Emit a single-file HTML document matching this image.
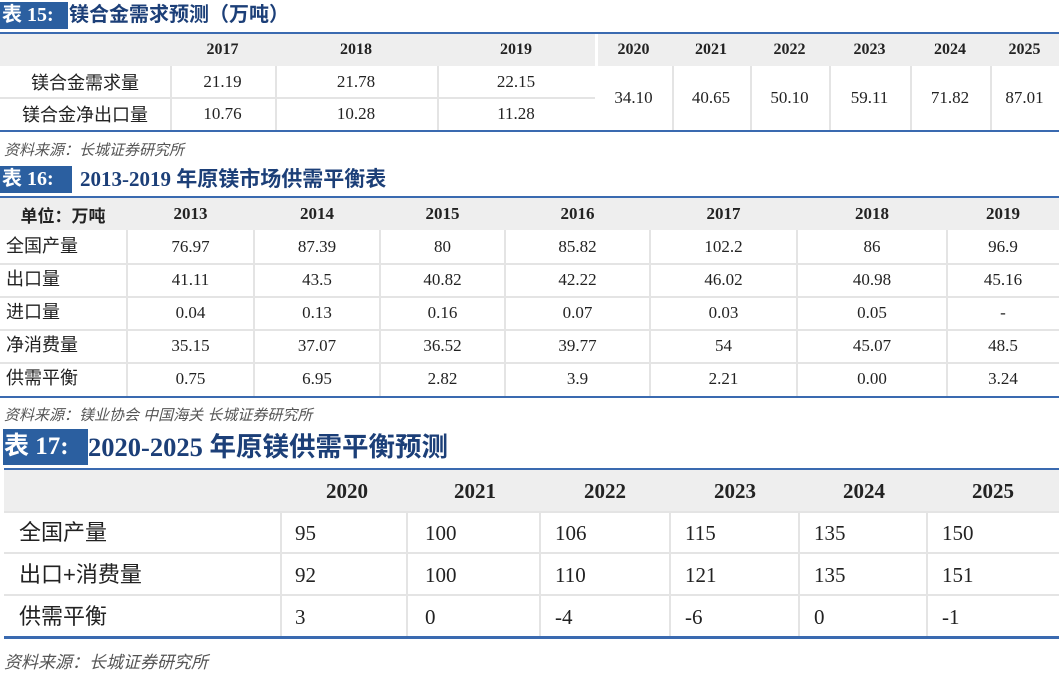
<!DOCTYPE html>
<html><head><meta charset="utf-8"><style>
body{margin:0;width:1059px;height:675px;background:#fff;position:relative;overflow:hidden;font-family:"Liberation Serif","Noto Serif CJK SC",serif;color:#222}
.a{position:absolute}
.ttl{position:absolute;color:#1c3f78;font-weight:bold;font-family:"Liberation Serif","Noto Sans CJK SC",sans-serif;white-space:nowrap}
.tag{position:absolute;background:#2b5fa0;color:#fff;font-weight:bold;font-family:"Liberation Serif","Noto Sans CJK SC",sans-serif}
.line{position:absolute;left:0;width:1059px;background:#3a6ab0}
.hd{position:absolute;left:0;width:1059px;background:#eeeeee}
.c{position:absolute;display:flex;align-items:center;justify-content:center;white-space:nowrap;box-sizing:border-box}
.src{position:absolute;left:4px;font-style:italic;color:#555;font-family:"Liberation Sans","Noto Sans CJK SC",sans-serif;white-space:nowrap}
.cj{font-family:"Liberation Sans","Noto Sans CJK SC",sans-serif}
.vl{position:absolute;width:2px;background:#e4e4e4}
.hl{position:absolute;height:2px;background:#e4e4e4}
</style></head><body>

<!-- Table 15 -->
<div class="tag" style="left:0;top:2px;width:66px;height:27px;font-size:20px;line-height:27px;padding-left:2px">表 15:</div>
<div class="ttl" style="left:69px;top:2px;font-size:20px;line-height:27px">镁合金需求预测（万吨）</div>
<div class="line" style="top:32px;height:2px"></div>
<div class="hd" style="top:34px;height:32px"></div>
<div class="line" style="top:130px;height:2px"></div>
<div class="hl" style="left:0;top:97px;width:595px"></div>
<div class="vl" style="left:170px;top:66px;height:64px"></div>
<div class="vl" style="left:275px;top:66px;height:64px"></div>
<div class="vl" style="left:437px;top:66px;height:64px"></div>
<div class="vl" style="left:595px;top:34px;height:96px;background:#fff;width:3px"></div>
<div class="vl" style="left:672px;top:66px;height:64px"></div>
<div class="vl" style="left:750px;top:66px;height:64px"></div>
<div class="vl" style="left:829px;top:66px;height:64px"></div>
<div class="vl" style="left:910px;top:66px;height:64px"></div>
<div class="vl" style="left:990px;top:66px;height:64px"></div>
<div style="font-size:16px;font-weight:bold">
<div class="c" style="left:170px;top:34px;width:105px;height:32px">2017</div>
<div class="c" style="left:275px;top:34px;width:162px;height:32px">2018</div>
<div class="c" style="left:437px;top:34px;width:158px;height:32px">2019</div>
<div class="c" style="left:595px;top:34px;width:77px;height:32px">2020</div>
<div class="c" style="left:672px;top:34px;width:78px;height:32px">2021</div>
<div class="c" style="left:750px;top:34px;width:79px;height:32px">2022</div>
<div class="c" style="left:829px;top:34px;width:81px;height:32px">2023</div>
<div class="c" style="left:910px;top:34px;width:80px;height:32px">2024</div>
<div class="c" style="left:990px;top:34px;width:69px;height:32px">2025</div>
</div>
<div style="font-size:17px">
<div class="c cj" style="left:0;top:66px;width:170px;height:32px;font-size:18px">镁合金需求量</div>
<div class="c cj" style="left:0;top:98px;width:170px;height:32px;font-size:18px">镁合金净出口量</div>
<div class="c" style="left:170px;top:66px;width:105px;height:32px">21.19</div>
<div class="c" style="left:275px;top:66px;width:162px;height:32px">21.78</div>
<div class="c" style="left:437px;top:66px;width:158px;height:32px">22.15</div>
<div class="c" style="left:170px;top:98px;width:105px;height:32px">10.76</div>
<div class="c" style="left:275px;top:98px;width:162px;height:32px">10.28</div>
<div class="c" style="left:437px;top:98px;width:158px;height:32px">11.28</div>
<div class="c" style="left:595px;top:66px;width:77px;height:64px">34.10</div>
<div class="c" style="left:672px;top:66px;width:78px;height:64px">40.65</div>
<div class="c" style="left:750px;top:66px;width:79px;height:64px">50.10</div>
<div class="c" style="left:829px;top:66px;width:81px;height:64px">59.11</div>
<div class="c" style="left:910px;top:66px;width:80px;height:64px">71.82</div>
<div class="c" style="left:990px;top:66px;width:69px;height:64px">87.01</div>
</div>
<div class="src" style="top:139px;font-size:15px">资料来源：长城证券研究所</div>

<!-- Table 16 -->
<div class="tag" style="left:0;top:166px;width:70px;height:27px;font-size:20px;line-height:27px;padding-left:2px">表 16:</div>
<div class="ttl" style="left:80px;top:166px;font-size:21px;line-height:27px">2013-2019 年原镁市场供需平衡表</div>
<div class="line" style="top:196px;height:2px"></div>
<div class="hd" style="top:198px;height:32px"></div>
<div class="line" style="top:396px;height:2px"></div>
<div class="hl" style="left:0;top:263px;width:1059px"></div>
<div class="hl" style="left:0;top:296px;width:1059px"></div>
<div class="hl" style="left:0;top:329px;width:1059px"></div>
<div class="hl" style="left:0;top:362px;width:1059px"></div>
<div class="vl" style="left:126px;top:230px;height:166px"></div>
<div class="vl" style="left:253px;top:230px;height:166px"></div>
<div class="vl" style="left:379px;top:230px;height:166px"></div>
<div class="vl" style="left:504px;top:230px;height:166px"></div>
<div class="vl" style="left:649px;top:230px;height:166px"></div>
<div class="vl" style="left:796px;top:230px;height:166px"></div>
<div class="vl" style="left:946px;top:230px;height:166px"></div>
<div style="font-size:17px;font-weight:bold">
<div class="c cj" style="left:0;top:198px;width:126px;height:32px">单位：万吨</div>
<div class="c" style="left:127px;top:198px;width:127px;height:32px">2013</div>
<div class="c" style="left:254px;top:198px;width:126px;height:32px">2014</div>
<div class="c" style="left:380px;top:198px;width:125px;height:32px">2015</div>
<div class="c" style="left:505px;top:198px;width:145px;height:32px">2016</div>
<div class="c" style="left:650px;top:198px;width:147px;height:32px">2017</div>
<div class="c" style="left:797px;top:198px;width:150px;height:32px">2018</div>
<div class="c" style="left:947px;top:198px;width:112px;height:32px">2019</div>
</div>
<div>
<div class="a cj" style="left:6px;top:236px;font-size:18px;line-height:20px">全国产量</div>
<div class="a cj" style="left:6px;top:269px;font-size:18px;line-height:20px">出口量</div>
<div class="a cj" style="left:6px;top:302px;font-size:18px;line-height:20px">进口量</div>
<div class="a cj" style="left:6px;top:335px;font-size:18px;line-height:20px">净消费量</div>
<div class="a cj" style="left:6px;top:368px;font-size:18px;line-height:20px">供需平衡</div>
</div>
<div style="font-size:17px" id="t16"></div>
<script>
var xs=[[127,127],[254,126],[380,125],[505,145],[650,147],[797,150],[947,112]];
var d=[["76.97","87.39","80","85.82","102.2","86","96.9"],["41.11","43.5","40.82","42.22","46.02","40.98","45.16"],["0.04","0.13","0.16","0.07","0.03","0.05","-"],["35.15","37.07","36.52","39.77","54","45.07","48.5"],["0.75","6.95","2.82","3.9","2.21","0.00","3.24"]];
var h="";for(var r=0;r<5;r++)for(var c=0;c<7;c++)h+='<div class="c" style="left:'+xs[c][0]+'px;top:'+(230+r*33)+'px;width:'+xs[c][1]+'px;height:33px">'+d[r][c]+'</div>';
document.getElementById("t16").innerHTML=h;
</script>
<div class="src" style="top:404px;font-size:15px">资料来源：镁业协会  中国海关  长城证券研究所</div>

<!-- Table 17 -->
<div class="tag" style="left:3px;top:429px;width:84px;height:36px;font-size:25px;line-height:36px;padding-left:1px">表 17:</div>
<div class="ttl" style="left:88px;top:429px;font-size:26.5px;line-height:36px">2020-2025 年原镁供需平衡预测</div>
<div class="line" style="left:4px;top:468px;height:2px;width:1055px"></div>
<div class="hd" style="left:4px;top:470px;height:41px;width:1055px"></div>
<div class="line" style="left:4px;top:636px;height:3px;width:1055px"></div>
<div class="hl" style="left:4px;top:552px;width:1055px"></div>
<div class="hl" style="left:4px;top:594px;width:1055px"></div>
<div class="hl" style="left:4px;top:511px;width:1055px"></div>
<div class="vl" style="left:280px;top:512px;height:124px"></div>
<div class="vl" style="left:406px;top:512px;height:124px"></div>
<div class="vl" style="left:539px;top:512px;height:124px"></div>
<div class="vl" style="left:669px;top:512px;height:124px"></div>
<div class="vl" style="left:798px;top:512px;height:124px"></div>
<div class="vl" style="left:926px;top:512px;height:124px"></div>
<div style="font-size:21px;font-weight:bold">
<div class="c" style="left:282px;top:471px;width:130px;height:41px">2020</div>
<div class="c" style="left:410px;top:471px;width:130px;height:41px">2021</div>
<div class="c" style="left:540px;top:471px;width:130px;height:41px">2022</div>
<div class="c" style="left:670px;top:471px;width:130px;height:41px">2023</div>
<div class="c" style="left:800px;top:471px;width:128px;height:41px">2024</div>
<div class="c" style="left:928px;top:471px;width:130px;height:41px">2025</div>
</div>
<div class="a cj" style="left:19px;top:519px;font-size:22px;line-height:28px">全国产量</div>
<div class="a cj" style="left:19px;top:561px;font-size:22px;line-height:28px">出口+消费量</div>
<div class="a cj" style="left:19px;top:603px;font-size:22px;line-height:28px">供需平衡</div>
<div id="t17" style="font-size:21px"></div>
<script>
var x2=[295,425,555,685,814,942];
var d2=[["95","100","106","115","135","150"],["92","100","110","121","135","151"],["3","0","-4","-6","0","-1"]];
var h2="";for(var r=0;r<3;r++)for(var c=0;c<6;c++)h2+='<div class="a" style="left:'+x2[c]+'px;top:'+(520+r*42)+'px;line-height:26px">'+d2[r][c]+'</div>';
document.getElementById("t17").innerHTML=h2;
</script>
<div class="src" style="top:648px;font-size:17px">资料来源：长城证券研究所</div>
</body></html>
